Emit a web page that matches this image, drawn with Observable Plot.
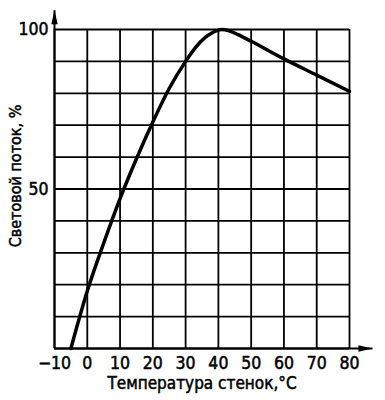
<!DOCTYPE html>
<html>
<head>
<meta charset="utf-8">
<script src="https://cdn.jsdelivr.net/npm/d3@7"></script>
<script src="https://cdn.jsdelivr.net/npm/@observablehq/plot@0.6"></script>
<style>
  html, body { margin: 0; padding: 0; background: #fff; }
  #chart { width: 385px; height: 400px; }
  #chart svg text { stroke: black; stroke-width: 0.5px; }
</style>
</head>
<body>
<div id="chart"></div>
<script>
// Data
const temperature = [-5, 0, 5, 10, 15, 20, 25, 30, 33, 36, 38, 41, 43, 46, 50, 60, 70, 80];
const lightFlux   = [0, 18, 33, 47, 59.5, 71, 81.5, 90, 94.3, 97.5, 98.9, 100, 99.7, 98.4, 96.3, 90.8, 85.7, 80.6];

const xTicks = [-10, 0, 10, 20, 30, 40, 50, 60, 70, 80];
const yGrid = [0, 10, 20, 30, 40, 50, 60, 70, 80, 90, 100];
const yTickLabels = [50, 100];
const xLabel = "Температура стенок,°С";
const yLabel = "Световой поток, %";

const points = temperature.map((t, i) => ({t, v: lightFlux[i]}));

const font = "'DejaVu Sans Condensed', 'Liberation Sans Narrow', sans-serif";

function filledArrow(color) {
  const m = d3.create("svg:marker")
    .attr("viewBox", "-12 -3 12 6")
    .attr("markerWidth", 12)
    .attr("markerHeight", 6)
    .attr("markerUnits", "userSpaceOnUse")
    .attr("refX", 0)
    .attr("refY", 0)
    .attr("orient", "auto")
    .attr("overflow", "visible");
  m.append("path").attr("d", "M-14,-3.2L0,0L-14,3.2Z").attr("fill", "black").attr("stroke", "none");
  return m.node();
}

const axisArrows = [
  {x1: -10, y1: 0, x2: 87, y2: 0},
  {x1: -10, y1: 0, x2: -10, y2: 106}
];

const chart = Plot.plot({
  width: 385,
  height: 400,
  marginLeft: 54,
  marginRight: 36,
  marginTop: 29,
  marginBottom: 52,
  x: {domain: [-10, 80]},
  y: {domain: [0, 100]},
  style: {fontFamily: font, fontSize: "17px", color: "black", background: "white", overflow: "visible"},
  marks: [
    Plot.ruleX(xTicks, {stroke: "black", strokeWidth: 1.8, strokeOpacity: 1}),
    Plot.ruleY(yGrid, {stroke: "black", strokeWidth: 1.8, strokeOpacity: 1}),
    Plot.link(axisArrows, {x1: "x1", y1: "y1", x2: "x2", y2: "y2", stroke: "black", strokeWidth: 2, markerEnd: filledArrow, clip: false}),
    Plot.line(points, {x: "t", y: "v", curve: "monotone-x", stroke: "black", strokeWidth: 3.5}),
    Plot.axisX(xTicks, {tickSize: 0, tickPadding: 8, fontSize: 17.5, label: null}),
    Plot.axisY(yTickLabels, {tickSize: 0, tickPadding: 6, fontSize: 17.5, label: null}),
    Plot.text([xLabel], {frameAnchor: "bottom", dy: 40, fontSize: 17, letterSpacing: "0.5px", text: d => d}),
    Plot.text([yLabel], {frameAnchor: "left", textAnchor: "middle", dx: -39, dy: -13, rotate: -90, fontSize: 16, letterSpacing: "0.8px", text: d => d})
  ]
});

document.getElementById("chart").appendChild(chart);
</script>
</body>
</html>
